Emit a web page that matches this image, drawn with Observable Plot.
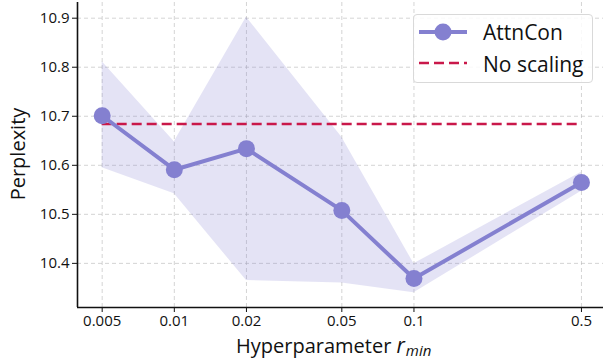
<!DOCTYPE html>
<html>
<head>
<meta charset="utf-8">
<script src="https://cdn.jsdelivr.net/npm/d3@7"></script>
<script src="https://cdn.jsdelivr.net/npm/@observablehq/plot@0.6"></script>
<style>
  html, body { margin: 0; padding: 0; background: white; }
  #wrap { position: relative; width: 603px; height: 360px; font-family: "Open Sans", sans-serif; }
  #legend { position: absolute; left: 413px; top: 14px; width: 180px; height: 69px;
    border: 1px solid #d9d9d9; border-radius: 4px; background: rgba(255,255,255,0.85); box-sizing: border-box; }
  #legend .row { position: absolute; left: 4px; height: 30px; display: flex; align-items: center; }
  #legend .row span { font-size: 21px; color: #111; margin-left: 15px; }
</style>
</head>
<body>
<div id="wrap"></div>
<script>
// ---- data ----
const rMin = [0.005, 0.01, 0.02, 0.05, 0.1, 0.5];
const rMinLabels = ["0.005", "0.01", "0.02", "0.05", "0.1", "0.5"];
const attnConMean = [10.701, 10.591, 10.634, 10.508, 10.369, 10.565];
const attnConLow  = [10.595, 10.542, 10.365, 10.360, 10.340, 10.547];
const attnConHigh = [10.811, 10.648, 10.902, 10.657, 10.399, 10.586];
const noScalingValue = 10.684;
const yTicks = [10.4, 10.5, 10.6, 10.7, 10.8, 10.9];
const seriesNames = ["AttnCon", "No scaling"];

const purple = "#8480d0";
const red = "#c9184a";

const rows = rMin.map((x, i) => ({x, y: attnConMean[i], lo: attnConLow[i], hi: attnConHigh[i]}));
const tickRows = rMin.map((x, i) => ({x, label: rMinLabels[i]}));
const baseline = [{y: noScalingValue, x1: rMin[0], x2: rMin[rMin.length - 1]}];

const xDomain = [rMin[0] / Math.pow(10, 0.103), rMin[rMin.length - 1] * Math.pow(10, 0.092)];
const yDomain = [10.31, 10.932];
const gridStyle = {stroke: "#b8b8b8", strokeOpacity: 0.6, strokeDasharray: "4,3", strokeWidth: 1};

const chart = Plot.plot({
  width: 603, height: 360,
  marginLeft: 77, marginRight: 0, marginTop: 2, marginBottom: 53,
  style: {fontFamily: "Open Sans, sans-serif", fontSize: "15px", color: "#111", background: "white"},
  x: {type: "log", domain: xDomain, label: null},
  y: {domain: yDomain, label: null},
  marks: [
    Plot.gridX(rMin, gridStyle),
    Plot.gridY(yTicks, gridStyle),
    Plot.areaY(rows, {x: "x", y1: "lo", y2: "hi", fill: purple, fillOpacity: 0.22}),
    Plot.ruleY(baseline, {y: "y", x1: "x1", x2: "x2", stroke: red, strokeWidth: 2.5, strokeDasharray: "10,5"}),
    Plot.line(rows, {x: "x", y: "y", stroke: purple, strokeWidth: 4}),
    Plot.dot(rows, {x: "x", y: "y", r: 8.5, fill: purple, stroke: "none"}),
    Plot.axisX(rMin, {tickSize: 5, stroke: "#111", text: null, label: null}),
    Plot.text(tickRows, {x: "x", text: "label", frameAnchor: "bottom", dy: 18, fontSize: 15, fill: "#111"}),
    Plot.axisY(yTicks, {tickSize: 5, tickPadding: 3, stroke: "#111", tickFormat: (d) => d.toFixed(1), label: null}),
    Plot.ruleX([xDomain[0]], {stroke: "#111", strokeWidth: 1.6}),
    Plot.ruleY([yDomain[0]], {stroke: "#111", strokeWidth: 1.6})
  ]
});

const wrap = document.getElementById("wrap");
wrap.appendChild(chart);

// axis titles
const svg = d3.select(chart);
const xt = svg.append("text")
  .attr("x", 236).attr("y", 353)
  .attr("text-anchor", "start")
  .attr("font-size", 20).attr("fill", "#111")
  .attr("font-family", "Open Sans, sans-serif");
xt.append("tspan").text("Hyperparameter ");
xt.append("tspan").attr("font-style", "italic").attr("font-size", 21).text("r");
xt.append("tspan").attr("font-style", "italic").attr("font-size", 15).attr("dx", 1).attr("dy", 2.5).text("min");

svg.append("text")
  .attr("transform", "translate(25,154) rotate(-90)")
  .attr("text-anchor", "middle")
  .attr("font-size", 20).attr("fill", "#111")
  .attr("font-family", "Open Sans, sans-serif")
  .text("Perplexity");

// legend
const legend = document.createElement("div");
legend.id = "legend";
legend.innerHTML = `
  <div class="row" style="top:2px">
    <svg width="50" height="20"><line x1="1" x2="49" y1="10" y2="10" stroke="${purple}" stroke-width="4"/><circle cx="25" cy="10" r="8.5" fill="${purple}"/></svg>
    <span>${seriesNames[0]}</span>
  </div>
  <div class="row" style="top:34px">
    <svg width="50" height="20"><line x1="1" x2="49" y1="9" y2="9" stroke="${red}" stroke-width="2.5" stroke-dasharray="10,5"/></svg>
    <span>${seriesNames[1]}</span>
  </div>`;
wrap.appendChild(legend);
</script>
</body>
</html>
